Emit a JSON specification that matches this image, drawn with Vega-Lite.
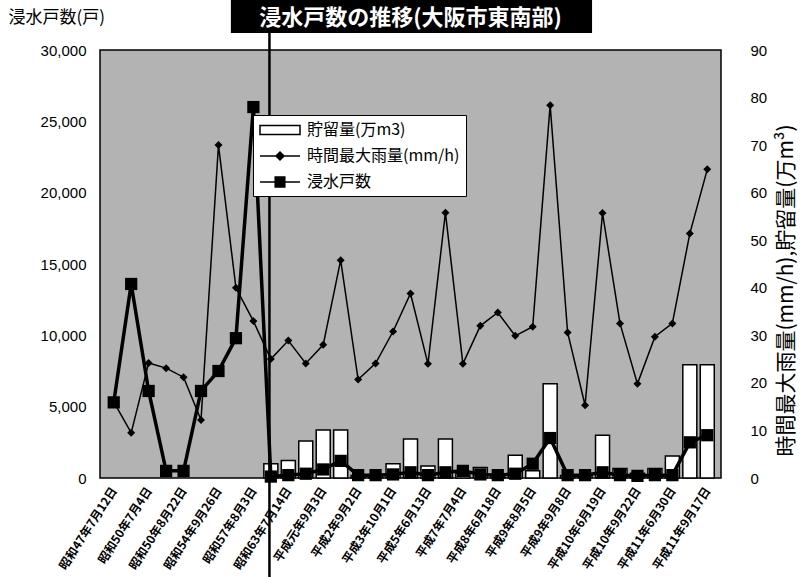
{
  "$schema": "https://vega.github.io/schema/vega-lite/v6.json",
  "width": 621,
  "height": 428,
  "autosize": {"type": "none"},
  "padding": {"left": 100, "top": 50, "right": 79, "bottom": 99},
  "background": "white",
  "title": {
    "text": "浸水戸数の推移(大阪市東南部)",
    "color": "white",
    "font": "Noto Sans CJK JP",
    "fontSize": 22,
    "fontWeight": "bold",
    "anchor": "middle",
    "frame": "group",
    "baseline": "middle",
    "offset": -40
  },
  "data": {
    "values": [
      {"n": 1, "flood": 5300, "rain": 16, "storage": null},
      {"n": 2, "flood": 13600, "rain": 9.5, "storage": null},
      {"n": 3, "flood": 6100, "rain": 24.2, "storage": null},
      {"n": 4, "flood": 500, "rain": 23.1, "storage": null},
      {"n": 5, "flood": 500, "rain": 21.2, "storage": null},
      {"n": 6, "flood": 6100, "rain": 12.2, "storage": null},
      {"n": 7, "flood": 7500, "rain": 70, "storage": null},
      {"n": 8, "flood": 9800, "rain": 40, "storage": null},
      {"n": 9, "flood": 26000, "rain": 33, "storage": null},
      {"n": 10, "flood": 100, "rain": 25, "storage": 3.0},
      {"n": 11, "flood": 200, "rain": 28.9, "storage": 3.7},
      {"n": 12, "flood": 300, "rain": 24.1, "storage": 7.8},
      {"n": 13, "flood": 600, "rain": 28, "storage": 10.1},
      {"n": 14, "flood": 1200, "rain": 45.8, "storage": 10.1},
      {"n": 15, "flood": 200, "rain": 20.7, "storage": 0.5},
      {"n": 16, "flood": 200, "rain": 24.1, "storage": 0.5},
      {"n": 17, "flood": 250, "rain": 30.8, "storage": 3.0},
      {"n": 18, "flood": 400, "rain": 38.8, "storage": 8.2},
      {"n": 19, "flood": 200, "rain": 24, "storage": 2.5},
      {"n": 20, "flood": 400, "rain": 55.8, "storage": 8.2},
      {"n": 21, "flood": 500, "rain": 24, "storage": 1.0},
      {"n": 22, "flood": 250, "rain": 32, "storage": 2.2},
      {"n": 23, "flood": 200, "rain": 34.8, "storage": 0.5},
      {"n": 24, "flood": 300, "rain": 29.9, "storage": 4.8},
      {"n": 25, "flood": 1000, "rain": 31.8, "storage": 1.5},
      {"n": 26, "flood": 2800, "rain": 78.4, "storage": 19.8},
      {"n": 27, "flood": 200, "rain": 30.6, "storage": 0.5},
      {"n": 28, "flood": 200, "rain": 15.3, "storage": 0.5},
      {"n": 29, "flood": 400, "rain": 55.7, "storage": 9.0},
      {"n": 30, "flood": 200, "rain": 32.5, "storage": 2.0},
      {"n": 31, "flood": 150, "rain": 19.8, "storage": 1.0},
      {"n": 32, "flood": 200, "rain": 29.7, "storage": 2.0},
      {"n": 33, "flood": 200, "rain": 32.5, "storage": 4.6},
      {"n": 34, "flood": 2500, "rain": 51.4, "storage": 23.8},
      {"n": 35, "flood": 3000, "rain": 64.9, "storage": 23.8}
    ]
  },
  "layer": [
    {
      "layer": [
        {
          "data": {"values": [{"box": "title"}]},
          "mark": {"type": "rect", "color": "black", "clip": false},
          "encoding": {
            "x": {"datum": 7.71, "type": "quantitative", "scale": {"domain": [0.5, 35.5], "nice": false, "zero": false}},
            "x2": {"datum": 28.4},
            "y": {"datum": 100.6, "type": "quantitative", "scale": {"domain": [0, 90], "nice": false}},
            "y2": {"datum": 93.6}
          }
        },
        {
          "mark": {"type": "bar", "width": 14, "fill": "white", "stroke": "black", "strokeWidth": 1.5},
          "encoding": {
            "x": {"field": "n", "type": "quantitative", "scale": {"domain": [0.5, 35.5], "nice": false, "zero": false},
              "axis": {"values": [1, 3, 5, 7, 9, 11, 13, 15, 17, 19, 21, 23, 25, 27, 29, 31, 33, 35], "tickCount": 40, "labelExpr": "['昭和47年7月12日','昭和50年7月4日','昭和50年8月22日','昭和54年9月26日','昭和57年8月3日','昭和63年7月14日','平成元年9月3日','平成2年9月2日','平成3年10月1日','平成5年6月13日','平成7年7月4日','平成8年6月18日','平成9年8月5日','平成9年9月8日','平成10年6月19日','平成10年9月22日','平成11年6月30日','平成11年9月17日'][(datum.value-1)/2]", "labelAngle": -57, "labelAlign": "right", "labelBaseline": "middle", "labelFont": "Noto Sans CJK JP", "labelFontSize": 12, "labelFontWeight": "bold", "labelColor": "black", "labelPadding": 10, "labelOverlap": false, "labelSeparation": -80, "ticks": false, "domain": false, "grid": false, "title": null}},
            "y": {"field": "storage", "type": "quantitative", "scale": {"domain": [0, 90], "nice": false},
              "axis": {"orient": "right", "values": [0, 10, 20, 30, 40, 50, 60, 70, 80, 90], "tickCount": 20, "grid": false, "ticks": false, "domain": false, "labelPadding": 29, "labelFont": "Liberation Sans", "labelFontSize": 15, "labelColor": "black", "title": "時間最大雨量(mm/h),貯留量(万m³)", "titleFont": "Noto Sans CJK JP", "titleFontSize": 21, "titleFontWeight": "normal", "titleColor": "black", "titleAngle": 270, "titleX": 65, "titleY": 240, "titleAlign": "center", "titleBaseline": "middle"}}
          }
        },
        {
          "mark": {"type": "line", "color": "black", "strokeWidth": 1.5, "point": {"shape": "diamond", "filled": true, "size": 64, "color": "black", "opacity": 1}},
          "encoding": {
            "x": {"field": "n", "type": "quantitative", "scale": {"domain": [0.5, 35.5], "nice": false, "zero": false},
              "axis": {"values": [1, 3, 5, 7, 9, 11, 13, 15, 17, 19, 21, 23, 25, 27, 29, 31, 33, 35], "tickCount": 40, "labelExpr": "['昭和47年7月12日','昭和50年7月4日','昭和50年8月22日','昭和54年9月26日','昭和57年8月3日','昭和63年7月14日','平成元年9月3日','平成2年9月2日','平成3年10月1日','平成5年6月13日','平成7年7月4日','平成8年6月18日','平成9年8月5日','平成9年9月8日','平成10年6月19日','平成10年9月22日','平成11年6月30日','平成11年9月17日'][(datum.value-1)/2]", "labelAngle": -57, "labelAlign": "right", "labelBaseline": "middle", "labelFont": "Noto Sans CJK JP", "labelFontSize": 12, "labelFontWeight": "bold", "labelColor": "black", "labelPadding": 10, "labelOverlap": false, "labelSeparation": -80, "ticks": false, "domain": false, "grid": false, "title": null}},
            "y": {"field": "rain", "type": "quantitative", "scale": {"domain": [0, 90], "nice": false},
              "axis": {"orient": "right", "values": [0, 10, 20, 30, 40, 50, 60, 70, 80, 90], "tickCount": 20, "grid": false, "ticks": false, "domain": false, "labelPadding": 29, "labelFont": "Liberation Sans", "labelFontSize": 15, "labelColor": "black", "title": "時間最大雨量(mm/h),貯留量(万m³)", "titleFont": "Noto Sans CJK JP", "titleFontSize": 21, "titleFontWeight": "normal", "titleColor": "black", "titleAngle": 270, "titleX": 65, "titleY": 240, "titleAlign": "center", "titleBaseline": "middle"}}
          }
        },
        {
          "data": {"values": [{"marker": "divider"}]},
          "mark": {"type": "rule", "color": "black", "strokeWidth": 2.5, "clip": false},
          "encoding": {
            "x": {"datum": 9.92, "type": "quantitative", "scale": {"domain": [0.5, 35.5], "nice": false, "zero": false}},
            "y": {"datum": 95.2, "type": "quantitative", "scale": {"domain": [0, 90], "nice": false}},
            "y2": {"datum": -21}
          }
        },
        {
          "data": {"values": [{"marker": "divider"}]},
          "mark": {"type": "point", "shape": "circle", "filled": true, "color": "black", "size": 70, "opacity": 1, "clip": false},
          "encoding": {
            "x": {"datum": 9.92, "type": "quantitative", "scale": {"domain": [0.5, 35.5], "nice": false, "zero": false}},
            "y": {"datum": 95.2, "type": "quantitative", "scale": {"domain": [0, 90], "nice": false}}
          }
        }
      ]
    },
    {
      "mark": {"type": "line", "color": "black", "strokeWidth": 3.5, "point": {"shape": "square", "filled": true, "size": 150, "color": "black", "opacity": 1}},
      "encoding": {
        "x": {"field": "n", "type": "quantitative", "scale": {"domain": [0.5, 35.5], "nice": false, "zero": false},
          "axis": {"values": [1, 3, 5, 7, 9, 11, 13, 15, 17, 19, 21, 23, 25, 27, 29, 31, 33, 35], "tickCount": 40, "labelExpr": "['昭和47年7月12日','昭和50年7月4日','昭和50年8月22日','昭和54年9月26日','昭和57年8月3日','昭和63年7月14日','平成元年9月3日','平成2年9月2日','平成3年10月1日','平成5年6月13日','平成7年7月4日','平成8年6月18日','平成9年8月5日','平成9年9月8日','平成10年6月19日','平成10年9月22日','平成11年6月30日','平成11年9月17日'][(datum.value-1)/2]", "labelAngle": -57, "labelAlign": "right", "labelBaseline": "middle", "labelFont": "Noto Sans CJK JP", "labelFontSize": 12, "labelFontWeight": "bold", "labelColor": "black", "labelPadding": 10, "labelOverlap": false, "labelSeparation": -80, "ticks": false, "domain": false, "grid": false, "title": null}},
        "y": {
          "field": "flood",
          "type": "quantitative",
          "scale": {"domain": [0, 30000], "nice": false},
          "axis": {"orient": "left", "values": [0, 5000, 10000, 15000, 20000, 25000, 30000], "tickCount": 20, "labelExpr": "format(datum.value, ',')", "grid": false, "ticks": false, "domain": false, "labelPadding": 14, "labelFont": "Liberation Sans", "labelFontSize": 15, "labelColor": "black", "title": "浸水戸数(戸)", "titleFont": "Noto Sans CJK JP", "titleFontSize": 17, "titleFontWeight": "normal", "titleColor": "black", "titleAngle": 0, "titleAlign": "left", "titleBaseline": "middle", "titleX": -92, "titleY": -33}
        }
      }
    },
    {
      "data": {"values": [{"series": "貯留量(万m3)"}, {"series": "時間最大雨量(mm/h)"}, {"series": "浸水戸数"}]},
      "mark": {"type": "point", "filled": true, "stroke": "black", "size": 256, "opacity": 1, "clip": true},
      "encoding": {
        "x": {"datum": 100, "type": "quantitative", "scale": {"domain": [0.5, 35.5], "nice": false, "zero": false}},
        "shape": {"field": "series", "type": "ordinal", "scale": {"domain": ["貯留量(万m3)", "時間最大雨量(mm/h)", "浸水戸数"], "range": ["M-1,-0.55H4V0.55H-1Z", "M-1,0H4M1.5,-0.5L2,0L1.5,0.5L1,0Z", "M-1,0H4M0.9,-0.62H2.1V0.62H0.9Z"]},
          "legend": {"title": null, "encode": {"symbols": {"stroke": {"value": "black"}, "opacity": {"value": 1}, "strokeOpacity": {"value": 1}}}}},
        "fill": {"field": "series", "type": "ordinal", "scale": {"domain": ["貯留量(万m3)", "時間最大雨量(mm/h)", "浸水戸数"], "range": ["white", "black", "black"]},
          "legend": {"title": null, "encode": {"symbols": {"stroke": {"value": "black"}, "opacity": {"value": 1}, "strokeOpacity": {"value": 1}}}}},
        "strokeWidth": {"field": "series", "type": "ordinal", "scale": {"domain": ["貯留量(万m3)", "時間最大雨量(mm/h)", "浸水戸数"], "range": [1.5, 1.5, 3.5]},
          "legend": {"title": null, "encode": {"symbols": {"stroke": {"value": "black"}, "opacity": {"value": 1}, "strokeOpacity": {"value": 1}}}}}
      }
    }
  ],
  "resolve": {"scale": {"y": "independent"}},
  "config": {
    "view": {"fill": "#b3b3b3", "stroke": "black", "strokeWidth": 1.5},
    "axisX": {"labelOverlap": false, "labelSeparation": -80},
    "legend": {
      "orient": "none",
      "legendX": 153,
      "legendY": 65,
      "fillColor": "white",
      "strokeColor": "black",
      "padding": 6,
      "labelFont": "Noto Sans CJK JP",
      "labelFontSize": 16,
      "labelColor": "black",
      "symbolSize": 256,
      "labelOffset": 30,
      "rowPadding": 9
    }
  }
}
